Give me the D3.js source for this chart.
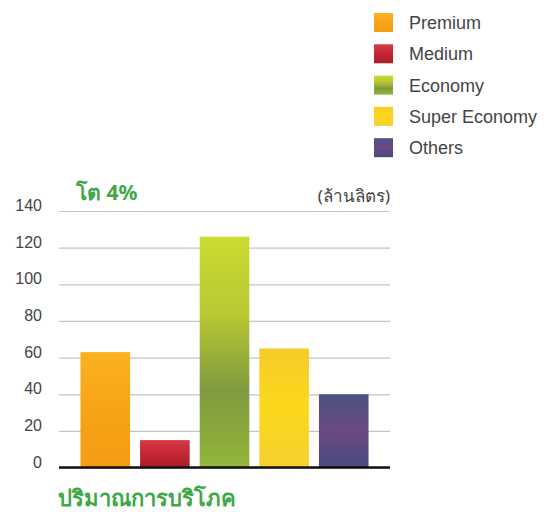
<!DOCTYPE html>
<html>
<head>
<meta charset="utf-8">
<script src="https://cdn.jsdelivr.net/npm/d3@7"></script>
<style>
  body { margin: 0; background: #fff; }
  svg { font-family: "Liberation Sans", Arial, sans-serif; }
  .tick-label { fill: #444; font-size: 16px; }
  .legend-label { fill: #444; font-size: 18px; }
  .green-title { fill: #3fa846; font-weight: bold; font-family: "Noto Sans", sans-serif; }
</style>
</head>
<body>
<svg width="551" height="512"></svg>
<script>
// data
var categories = ["Premium", "Medium", "Economy", "Super Economy", "Others"]
var volumes = [63, 15, 126, 65, 40]
var yTicks = [0, 20, 40, 60, 80, 100, 120, 140]

// colour stops for each category (top -> bottom)
var fills = [
    ["#fbb21e", "#f7a416", "#f59c14"],
    ["#d53a44", "#c42634", "#a81e2a"],
    ["#cbdb30", "#b9c832", "#7f9a40", "#92b63a"],
    ["#f6cc28", "#fbd81c", "#f7d030"],
    ["#4c5284", "#6a4a80", "#474b7e"]
]

var margins = { left: 59, right: 161, top: 211, bottom: 45 }
var screen = { width: 551, height: 512 }
var graph = {
    width: screen.width - margins.left - margins.right,
    height: 256.6
}

var svg = d3.select("svg")

var defs = svg.append("defs")
fills.forEach(function (stops, i) {
    var grad = defs.append("linearGradient")
        .attr("id", "fill" + i)
        .attr("x1", 0).attr("y1", 0)
        .attr("x2", 0).attr("y2", 1)
    stops.forEach(function (c, j) {
        grad.append("stop")
            .attr("offset", (j / (stops.length - 1)) * 100 + "%")
            .attr("stop-color", c)
    })
})

var xScale = d3.scaleBand()
    .domain(categories)
    .range([0, graph.width])
    .paddingInner(0.168)
    .paddingOuter(0.36)

var yScale = d3.scaleLinear()
    .domain([0, 140])
    .range([graph.height, 0])

var target = svg.append("g")
    .attr("transform", "translate(" + margins.left + "," + margins.top + ")")

// gridlines
var yAxis = d3.axisLeft(yScale)
    .tickValues(yTicks)
    .tickSize(-graph.width)
    .tickFormat("")
var grid = target.append("g").call(yAxis)
grid.select(".domain").remove()
grid.selectAll(".tick line")
    .attr("stroke", "#c4c4c4")
    .attr("stroke-width", 1.2)

// tick labels
target.append("g")
    .selectAll("text")
    .data(yTicks)
    .enter()
    .append("text")
    .classed("tick-label", true)
    .attr("text-anchor", "end")
    .attr("x", -17)
    .attr("y", function (d) { return yScale(d) })
    .text(function (d) { return d })

// bars
target.append("g")
    .selectAll("rect")
    .data(volumes)
    .enter()
    .append("rect")
    .attr("x", function (d, i) { return xScale(categories[i]) })
    .attr("width", xScale.bandwidth())
    .attr("y", function (d) { return yScale(d) })
    .attr("height", function (d) { return graph.height - yScale(d) })
    .attr("fill", function (d, i) { return "url(#fill" + i + ")" })

// baseline
target.append("line")
    .attr("x1", 0)
    .attr("x2", graph.width)
    .attr("y1", yScale(0))
    .attr("y2", yScale(0))
    .attr("stroke", "#111")
    .attr("stroke-width", 2.5)

// labels
svg.append("text")
    .text("โต 4%")
    .classed("green-title", true)
    .attr("font-size", 21)
    .attr("x", 76)
    .attr("y", 200)
svg.append("text")
    .text("(ล้านลิตร)")
    .attr("fill", "#444")
    .attr("font-size", 17)
    .attr("font-family", "Noto Sans, sans-serif")
    .attr("text-anchor", "end")
    .attr("x", margins.left + graph.width)
    .attr("y", 202)
svg.append("text")
    .text("ปริมาณการบริโภค")
    .classed("green-title", true)
    .attr("font-size", 22)
    .attr("x", 58)
    .attr("y", 506)

// legend
var legend = svg.append("g")
    .attr("transform", "translate(374,13)")
var rows = legend.selectAll("g")
    .data(categories)
    .enter()
    .append("g")
    .attr("transform", function (d, i) { return "translate(0," + (i * 31.3) + ")" })
rows.append("rect")
    .attr("width", 19)
    .attr("height", 19)
    .attr("fill", function (d, i) { return "url(#fill" + i + ")" })
rows.append("text")
    .classed("legend-label", true)
    .attr("x", 35)
    .attr("y", 16)
    .text(function (d) { return d })
</script>
</body>
</html>
